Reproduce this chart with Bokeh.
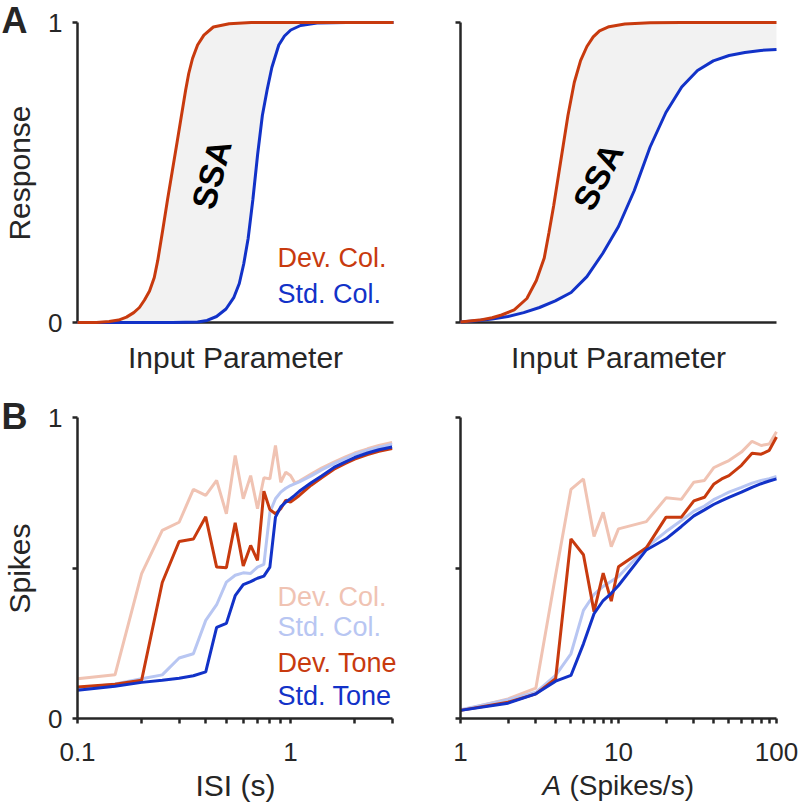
import math
from bokeh.plotting import figure
from bokeh.layouts import column, row
from bokeh.models import Range1d, FixedTicker, Label
from bokeh.core.properties import value
from bokeh.embed import file_html
from bokeh.resources import INLINE

FONT = "Liberation Sans"
INK = "#262626"
RED = "#C83A0E"
BLUE = "#1232C8"
LRED = "#F0C3B3"
LBLUE = "#B8C6F2"
FILL = "#F2F2F2"

# ---------------- Panel A (schematic) ----------------
a_left_dev_x = [0, 0.06, 0.10, 0.13, 0.155, 0.178, 0.196, 0.212, 0.228, 0.243, 0.254, 0.27, 0.285,
                0.30, 0.315, 0.329, 0.342, 0.352, 0.364, 0.38, 0.40, 0.43, 0.48, 0.55, 1.0]
a_left_dev_y = [0, 0, 0.003, 0.008, 0.018, 0.033, 0.05, 0.075, 0.105, 0.15, 0.207, 0.31, 0.41,
                0.505, 0.60, 0.69, 0.773, 0.83, 0.88, 0.925, 0.958, 0.985, 0.996, 1.0, 1.0]
a_left_std_x = [0, 0.30, 0.38, 0.41, 0.44, 0.47, 0.495, 0.512, 0.526, 0.54, 0.555, 0.57, 0.585,
                0.60, 0.615, 0.637, 0.655, 0.675, 0.706, 0.758, 0.85, 1.0]
a_left_std_y = [0, 0, 0.002, 0.007, 0.02, 0.045, 0.084, 0.13, 0.195, 0.28, 0.41, 0.56, 0.69,
                0.775, 0.85, 0.925, 0.955, 0.975, 0.99, 0.998, 1.0, 1.0]

a_right_dev_x = [0, 0.06, 0.10, 0.13, 0.17, 0.21, 0.24, 0.265, 0.28, 0.295, 0.31, 0.325, 0.34,
                 0.36, 0.38, 0.40, 0.42, 0.44, 0.47, 0.52, 0.60, 0.70, 1.0]
a_right_dev_y = [0.002, 0.008, 0.016, 0.025, 0.042, 0.08, 0.14, 0.215, 0.30, 0.39, 0.49, 0.59, 0.69,
                 0.80, 0.873, 0.92, 0.952, 0.972, 0.986, 0.995, 0.999, 1.0, 1.0]
a_right_std_x = [0, 0.05, 0.10, 0.15, 0.20, 0.25, 0.30, 0.35, 0.40, 0.45, 0.50, 0.55, 0.60,
                 0.65, 0.70, 0.75, 0.80, 0.85, 0.90, 0.95, 1.0]
a_right_std_y = [0.002, 0.006, 0.012, 0.02, 0.033, 0.05, 0.072, 0.10, 0.153, 0.23, 0.32, 0.44, 0.585,
                 0.70, 0.785, 0.84, 0.872, 0.89, 0.90, 0.907, 0.91]

a_y_ticks = [0, 1]
a_y_labels = ["0", "1"]
a_legend = ["Dev. Col.", "Std. Col."]

# ---------------- Panel B left: ISI ----------------
isi = [0.1, 0.15, 0.2, 0.25, 0.3, 0.35, 0.4, 0.45, 0.5, 0.55, 0.6, 0.65, 0.7, 0.75, 0.8, 0.85,
       0.9, 0.95, 1.0, 1.05, 1.1, 1.25, 1.4, 1.6, 1.8, 2.0, 2.3, 2.6, 3.0]
isi_dev_col = [0.132, 0.145, 0.481, 0.625, 0.652, 0.761, 0.741, 0.791, 0.680, 0.874, 0.730, 0.807,
               0.697, 0.800, 0.796, 0.907, 0.785, 0.818, 0.807, 0.782, 0.789, 0.812, 0.832, 0.852,
               0.868, 0.882, 0.896, 0.907, 0.917]
isi_std_col = [0.100, 0.115, 0.132, 0.145, 0.201, 0.215, 0.326, 0.378, 0.453, 0.476, 0.484, 0.482,
               0.503, 0.512, 0.685, 0.730, 0.752, 0.765, 0.774, 0.780, 0.786, 0.806, 0.826, 0.847,
               0.863, 0.878, 0.891, 0.901, 0.911]
isi_dev_tone = [0.105, 0.114, 0.127, 0.452, 0.588, 0.596, 0.670, 0.503, 0.501, 0.650, 0.507, 0.575,
                0.525, 0.755, 0.694, 0.680, 0.697, 0.725, 0.719, 0.730, 0.741, 0.775, 0.800, 0.828,
                0.847, 0.862, 0.877, 0.888, 0.897]
isi_std_tone = [0.094, 0.107, 0.120, 0.127, 0.134, 0.142, 0.155, 0.303, 0.316, 0.408, 0.445, 0.455,
                0.466, 0.473, 0.503, 0.669, 0.703, 0.719, 0.730, 0.742, 0.755, 0.783, 0.806, 0.834,
                0.852, 0.867, 0.882, 0.893, 0.902]
isi_ticks = [0.1, 1]
isi_tick_labels = ["0.1", "1"]
isi_minor = [0.2, 0.3, 0.4, 0.5, 0.6, 0.7, 0.8, 0.9, 2, 3]

# ---------------- Panel B right: rate A ----------------
rate = [1, 2, 3, 4, 5, 6, 7, 8, 9, 10, 15, 20, 25, 30, 35, 40, 45, 50, 60, 70, 80, 90, 100]
rate_dev_col = [0.027, 0.065, 0.101, 0.477, 0.761, 0.796, 0.605, 0.685, 0.571, 0.630, 0.654, 0.733,
                0.728, 0.785, 0.791, 0.833, 0.846, 0.857, 0.885, 0.921, 0.907, 0.912, 0.953]
rate_std_col = [0.029, 0.062, 0.087, 0.143, 0.215, 0.359, 0.412, 0.439, 0.456, 0.472, 0.569, 0.621,
                0.658, 0.689, 0.706, 0.727, 0.740, 0.752, 0.768, 0.782, 0.791, 0.797, 0.804]
rate_dev_tone = [0.027, 0.054, 0.082, 0.132, 0.597, 0.544, 0.355, 0.483, 0.390, 0.504, 0.567, 0.669,
                 0.669, 0.723, 0.735, 0.778, 0.796, 0.807, 0.841, 0.881, 0.878, 0.891, 0.935]
rate_std_tone = [0.027, 0.051, 0.082, 0.124, 0.143, 0.248, 0.348, 0.392, 0.416, 0.442, 0.560, 0.597,
                 0.638, 0.673, 0.693, 0.711, 0.724, 0.735, 0.752, 0.768, 0.780, 0.789, 0.796]
rate_ticks = [1, 10, 100]
rate_tick_labels = ["1", "10", "100"]
rate_minor = [2, 3, 4, 5, 6, 7, 8, 9, 20, 30, 40, 50, 60, 70, 80, 90]

b_y_ticks = [0, 0.5, 1]
b_y_labels = ["0", "", "1"]
b_legend = ["Dev. Col.", "Std. Col.", "Dev. Tone", "Std. Tone"]
b_colors = [LRED, LBLUE, RED, BLUE]

# ---------------- layout geometry (page pixels) ----------------
W_LEFT, W_RIGHT = 410, 388
H_TOP, H_BOT = 380, 424
AXL_X0, AXL_X1 = 77, 393      # left panels: x-axis start / end
AXR_X0, AXR_X1 = 460, 776     # right panels
A_Y0, A_Y1 = 322, 22          # A: y=0 / y=1 pixel rows
B_Y0, B_Y1 = 718, 417         # B: y=0 / y=1 pixel rows


def lin_map(px, p0, p1, v0, v1):
    return v0 + (px - p0) * (v1 - v0) / (p1 - p0)


def log_map(px, p0, p1, v0, v1):
    return 10 ** lin_map(px, p0, p1, math.log10(v0), math.log10(v1))


def style(p):
    p.grid.visible = False
    p.outline_line_color = None
    p.min_border = 0
    for ax in p.axis:
        ax.axis_line_color = INK
        ax.axis_line_width = 2.5
        ax.major_tick_line_color = INK
        ax.major_tick_line_width = 2.5
        ax.minor_tick_line_color = INK
        ax.minor_tick_line_width = 2.5
        ax.major_tick_in = 0
        ax.major_tick_out = 5
        ax.minor_tick_in = 0
        ax.minor_tick_out = 5
        ax.major_label_text_font = FONT
        ax.major_label_text_font_size = "26px"
        ax.major_label_text_color = INK


def add_text(p, x, y, text, color=INK, size="30px", style_="normal", angle=0.0,
             align="left", baseline="middle"):
    p.add_layout(Label(x=x, y=y, text=text, text_color=color, text_font=FONT,
                       text_font_size=size, text_font_style=style_, angle=angle,
                       text_align=align, text_baseline=baseline))


def make_a(left, dev_x, dev_y, std_x, std_y):
    x_off = 0 if left else W_LEFT
    w = W_LEFT if left else W_RIGHT
    p0, p1 = (AXL_X0, AXL_X1) if left else (AXR_X0, AXR_X1)
    fx = lambda px: lin_map(px, p0, p1, 0.0, 1.0)
    fy = lambda py: lin_map(py, A_Y0, A_Y1, 0.0, 1.0)
    p = figure(width=w, height=H_TOP,
               x_range=Range1d(fx(x_off), fx(x_off + w)),
               y_range=Range1d(fy(H_TOP), fy(0)),
               output_backend="svg", toolbar_location=None)
    style(p)
    p.patch(x=dev_x + std_x[::-1], y=dev_y + std_y[::-1], fill_color=FILL, line_color=None)
    p.line(std_x, std_y, line_color=BLUE, line_width=3, level="overlay")
    p.line(dev_x, dev_y, line_color=RED, line_width=3, level="overlay")
    p.xaxis.fixed_location = 0
    p.xaxis.bounds = (0, 1)
    p.xaxis.ticker = FixedTicker(ticks=[])
    p.yaxis.fixed_location = 0
    p.yaxis.bounds = (0, 1)
    p.yaxis.ticker = FixedTicker(ticks=a_y_ticks)
    p.yaxis.major_label_standoff = 10
    if left:
        p.yaxis.major_label_overrides = {float(t): s for t, s in zip(a_y_ticks, a_y_labels)}
    else:
        p.yaxis.major_label_overrides = {float(t): "" for t in a_y_ticks}
    add_text(p, fx((p0 + p1) / 2), fy(356.5), "Input Parameter", align="center")
    return p, fx, fy


# ---- A left
pa1, fx, fy = make_a(True, a_left_dev_x, a_left_dev_y, a_left_std_x, a_left_std_y)
pa1.text(x=[fx(211)], y=[fy(174)], text=["SSA"], angle=1.31, text_align="center",
         text_baseline="middle", text_color="black", text_font=value(FONT),
         text_font_style="bold", text_font_size="34px")
add_text(pa1, fx(19), fy(172.5), "Response", angle=math.pi / 2, align="center")
add_text(pa1, fx(1), fy(20), "A", size="36px", style_="bold")
add_text(pa1, fx(277), fy(257.5), a_legend[0], color=RED, size="27px")
add_text(pa1, fx(277), fy(293), a_legend[1], color=BLUE, size="27px")

# ---- A right
pa2, fx2, fy2 = make_a(False, a_right_dev_x, a_right_dev_y, a_right_std_x, a_right_std_y)
pa2.text(x=[fx2(597.5)], y=[fy2(176)], text=["SSA"], angle=1.10, text_align="center",
         text_baseline="middle", text_color="black", text_font=value(FONT),
         text_font_style="bold", text_font_size="34px")


def make_b(left, xs, series, ticks, tick_labels, minor):
    x_off = 0 if left else W_LEFT
    w = W_LEFT if left else W_RIGHT
    if left:
        fx = lambda px: log_map(px, AXL_X0, 290, 0.1, 1.0)
    else:
        fx = lambda px: log_map(px, AXR_X0, AXR_X1, 1.0, 100.0)
    fy = lambda py: lin_map(py - H_TOP, B_Y0 - H_TOP, B_Y1 - H_TOP, 0.0, 1.0)
    p = figure(width=w, height=H_BOT, x_axis_type="log",
               x_range=Range1d(fx(x_off), fx(x_off + w)),
               y_range=Range1d(fy(H_TOP + H_BOT), fy(H_TOP)),
               output_backend="svg", toolbar_location=None)
    style(p)
    for ys, c in zip(series, b_colors):
        p.line(xs, ys, line_color=c, line_width=3)
    p.xaxis.fixed_location = 0
    p.xaxis.bounds = (xs[0], xs[-1])
    p.xaxis.ticker = FixedTicker(ticks=ticks, minor_ticks=minor)
    p.xaxis.major_label_overrides = {float(t): s for t, s in zip(ticks, tick_labels)}
    p.xaxis.major_label_standoff = 19
    p.yaxis.fixed_location = xs[0]
    p.yaxis.bounds = (0, 1)
    p.yaxis.ticker = FixedTicker(ticks=b_y_ticks)
    p.yaxis.major_label_standoff = 10
    if left:
        p.yaxis.major_label_overrides = {float(t): s for t, s in zip(b_y_ticks, b_y_labels)}
    else:
        p.yaxis.major_label_overrides = {float(t): "" for t in b_y_ticks}
    return p, fx, fy


pb1, gx, gy = make_b(True, isi, [isi_dev_col, isi_std_col, isi_dev_tone, isi_std_tone],
                     isi_ticks, isi_tick_labels, isi_minor)
add_text(pb1, gx(19), gy(568), "Spikes", angle=math.pi / 2, align="center")
add_text(pb1, gx(235), gy(785), "ISI (s)", align="center")
add_text(pb1, gx(1), gy(416), "B", size="36px", style_="bold")
for lab, c, py in zip(b_legend, b_colors, [596, 626.5, 662, 695]):
    add_text(pb1, gx(277), gy(py), lab, color=c, size="27px")

pb2, hx, hy = make_b(False, rate, [rate_dev_col, rate_std_col, rate_dev_tone, rate_std_tone],
                     rate_ticks, rate_tick_labels, rate_minor)
add_text(pb2, hx(542), hy(785), "A", size="28px", style_="italic")
add_text(pb2, hx(569), hy(785), "(Spikes/s)", size="28px")

layout = column(row(pa1, pa2), row(pb1, pb2))
open("out.html", "w").write(file_html(layout, INLINE))
